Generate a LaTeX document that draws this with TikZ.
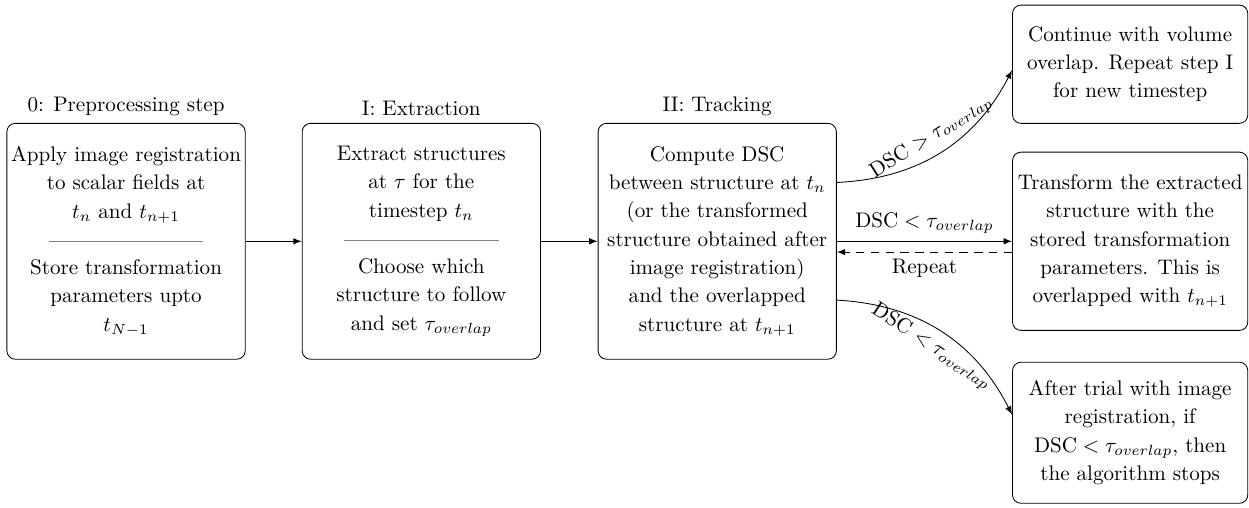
\documentclass[tikz,border=0pt]{standalone}
\usetikzlibrary{positioning}
\newcommand{\divline}{{\color{gray}\rule[0.5ex]{2.58cm}{0.4pt}}}
\begin{document}
\begin{tikzpicture}[
  stepbox/.style={draw,rounded corners,align=center,minimum width=3.97cm,minimum height=3.93cm,inner sep=1pt,font=\fontsize{10}{13.4}\selectfont},
  sidebox/.style={draw,rounded corners,align=center,minimum width=3.92cm,inner sep=1pt,font=\fontsize{10}{13.4}\selectfont},
  flow/.style={-latex}
]
\useasboundingbox (0,0) rectangle (20.81,-8.46);

% main steps
\node[stepbox] (b0) at (2.10,-4.02) {Apply image registration\\ to scalar fields at\\ $t_n$ and $t_{n+1}$\\ \divline\\ Store transformation\\ parameters upto\\ $t_{N-1}$};
\node[stepbox] (b1) at (7.02,-4.02) {Extract structures\\ at $\tau$ for the\\ timestep $t_n$\\ \divline\\ Choose which\\ structure to follow\\ and set $\tau_{overlap}$};
\node[stepbox] (b2) at (11.95,-4.02) {Compute DSC\\ between structure at $t_n$\\ (or the transformed\\ structure obtained after\\ image registration)\\ and the overlapped\\ structure at $t_{n+1}$};

\node[above=0pt of b0] (t0) {0: Preprocessing step};
\node[above=0pt of b1] (t1) {I: Extraction};
\node[above=0pt of b2] (t2) {II: Tracking};

% outcomes
\node[sidebox,minimum height=1.97cm] (ra) at (18.83,-1.07) {Continue with volume\\ overlap. Repeat step I\\ for new timestep};
\node[sidebox,minimum height=2.97cm] (rb) at (18.83,-4.02) {Transform the extracted\\ structure with the\\ stored transformation\\ parameters. This is\\ overlapped with $t_{n+1}$};
\node[sidebox,minimum height=2.35cm] (rc) at (18.83,-7.21) {After trial with image\\ registration, if\\ $\mathrm{DSC} < \tau_{overlap}$, then\\ the algorithm stops};

\draw[flow] (b0) -- (b1);
\draw[flow] (b1) -- (b2);
\draw[flow] ([yshift=0.98cm]b2.east) to[bend right=30] node[sloped,above] {DSC $>\tau_{overlap}$} ([yshift=-0.1cm]ra.west);
\draw[flow] (b2.east) -- node[above] {$\mathrm{DSC} < \tau_{overlap}$} (rb.west);
\draw[flow,dash pattern=on 4pt off 3pt] ([yshift=-0.18cm]rb.west) -- node[below] {Repeat} ([yshift=-0.18cm]b2.east);
\draw[flow] ([yshift=-0.98cm]b2.east) to[bend left=30] node[sloped,below] {DSC $<\tau_{overlap}$} ([yshift=0.3cm]rc.west);
\end{tikzpicture}
\end{document}
